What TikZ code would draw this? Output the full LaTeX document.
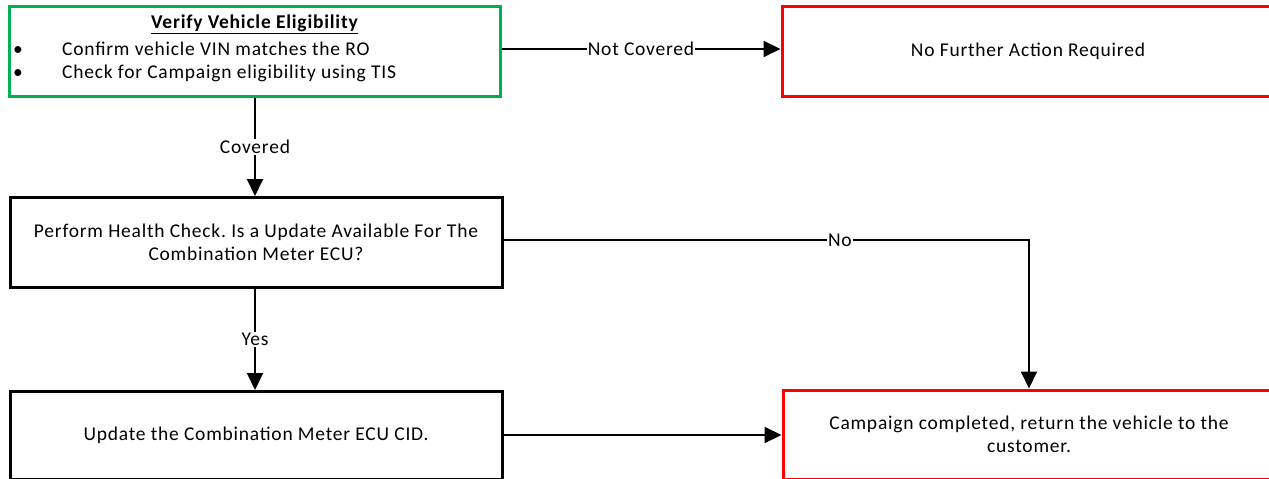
\documentclass[tikz,border=0pt]{standalone}
\usepackage{fontspec}
\setmainfont{Carlito}[LetterSpace=4]
\usetikzlibrary{arrows.meta}
\definecolor{okgreen}{RGB}{0,176,80}
\frenchspacing

\begin{document}
\begin{tikzpicture}
[x=1pt, y=-1pt,
 every node/.style={inner sep=0pt, font=\fontsize{19.5}{23.5}\selectfont},
 stepbox/.style={rectangle, line width=3pt, draw=black, fill=white, align=center},
 greenbox/.style={stepbox, draw=okgreen},
 redbox/.style={stepbox, draw=red},
 flow/.style={line width=2pt, -{Triangle[length=17pt, width=16pt]}},
 lbl/.style={fill=white, inner sep=1pt}]
\useasboundingbox (0,0) rectangle (1269,479);
\node (verify) [greenbox, minimum width=491pt, minimum height=90pt] at (254.5, 51.0) {};
\node (title) at (254.5, 24.0) {\bfseries\underline{Verify Vehicle Eligibility}};
\node (b1) [anchor=west] at (13.0, 49.0) {\makebox[49pt][l]{\textbullet}Confirm vehicle VIN matches the RO};
\node (b2) [anchor=west] at (13.0, 73.0) {\makebox[49pt][l]{\textbullet}Check for Campaign eligibility using TIS};
\node (noaction) [redbox, minimum width=492pt, minimum height=90pt] at (1028.0, 51.0) {No Further Action Required};
\node (health) [stepbox, minimum width=492pt, minimum height=90pt] at (256.0, 242.5) {Perform Health Check. Is a Update Available For The\\Combination Meter ECU?};
\node (update) [stepbox, minimum width=492pt, minimum height=88pt] at (256.0, 435.5) {Update the Combination Meter ECU CID.};
\node (done) [redbox, minimum width=492pt, minimum height=89pt] at (1029.0, 434.5) {Campaign completed, return the vehicle to the\\customer.};
\coordinate (bend) at (1029.0, 240.0);
\draw [flow] (verify.east |- 0,49) -- node [lbl] {Not Covered} (noaction.west |- 0,49);
\draw [flow] (verify.south -| 255,0) -- node [lbl] {Covered} (health.north -| 255,0);
\draw [flow] (health.east |- bend) -- node [lbl, pos=0.64] {No} (bend) -- (done.north -| bend);
\draw [flow] (health.south -| 255,0) -- node [lbl] {Yes} (update.north -| 255,0);
\draw [flow] (update.east |- 0,435) -- (done.west |- 0,435);
\end{tikzpicture}
\end{document}
